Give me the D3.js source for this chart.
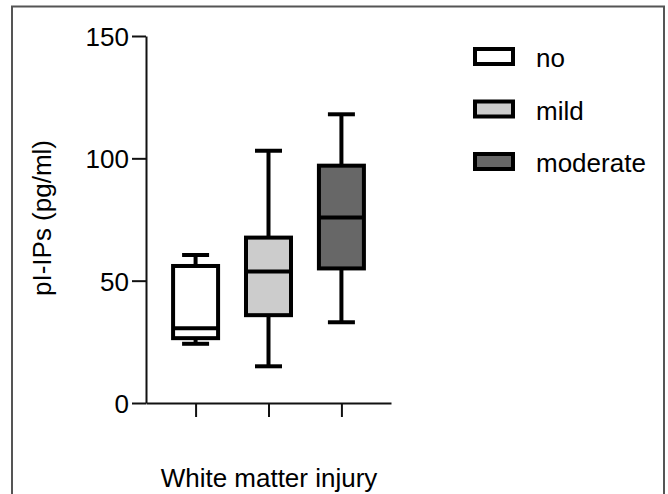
<!DOCTYPE html>
<html>
<head>
<meta charset="utf-8">
<script src="https://cdn.jsdelivr.net/npm/d3@7"></script>
<style>
  html, body { margin: 0; padding: 0; background: #fff; }
  text { font-family: "Liberation Sans", Arial, sans-serif; fill: #000; }
</style>
</head>
<body>
<svg id="chart"></svg>
<script>
// Datos
const groups = ["no", "mild", "moderate"];
const mins    = [24.2, 15.0, 33.0];
const q1s     = [26.5, 35.9, 55.0];
const medians = [30.6, 53.7, 75.8];
const q3s     = [56.0, 67.6, 97.0];
const maxs    = [60.5, 103.1, 118.0];
const fills   = ["#ffffff", "#cccccc", "#676767"];
const yTicks  = [0, 50, 100, 150];

const width = 668;
const height = 494;

const svg = d3.select("#chart")
    .attr("width", width)
    .attr("height", height);

// Marco
svg.append("path")
    .attr("d", "M12,500 L12,6.5 L664,6.5 L664,500")
    .attr("fill", "none")
    .attr("stroke", "#555")
    .attr("stroke-width", 2);

// Escalas
const x = d3.scalePoint()
    .domain(groups)
    .range([146, 391])
    .padding(0.68);

const y = d3.scaleLinear()
    .domain([0, 150])
    .range([403, 36]);

// Ejes
const yAxis = svg.append("g")
    .attr("transform", "translate(146,0)")
    .call(d3.axisLeft(y).tickValues(yTicks).tickSize(14).tickSizeOuter(0).tickPadding(3));

const xAxis = svg.append("g")
    .attr("transform", "translate(0,403)")
    .call(d3.axisBottom(x).tickSize(14).tickSizeOuter(0).tickFormat(""));

[xAxis, yAxis].forEach(g => {
    g.selectAll("path, line").attr("stroke", "#111").attr("stroke-width", 2);
    g.selectAll("text")
        .style("font-family", "'Liberation Sans', Arial, sans-serif")
        .style("font-size", "26px")
        .attr("fill", "#000");
});
yAxis.selectAll("text").attr("dy", "0.36em");

// Cajas
const data = groups.map((g, i) => ({
    g, min: mins[i], q1: q1s[i], med: medians[i], q3: q3s[i], max: maxs[i], fill: fills[i]
}));

const boxW = 45;
const capW = 27;
const sw = 4;

const box = svg.selectAll(".box")
    .data(data)
    .enter()
    .append("g")
    .attr("class", "box");

// bigotes
box.append("line")
    .attr("x1", d => x(d.g)).attr("x2", d => x(d.g))
    .attr("y1", d => y(d.max)).attr("y2", d => y(d.q3))
    .attr("stroke", "#000").attr("stroke-width", sw);
box.append("line")
    .attr("x1", d => x(d.g)).attr("x2", d => x(d.g))
    .attr("y1", d => y(d.q1)).attr("y2", d => y(d.min))
    .attr("stroke", "#000").attr("stroke-width", sw);
box.append("line")
    .attr("x1", d => x(d.g) - capW / 2).attr("x2", d => x(d.g) + capW / 2)
    .attr("y1", d => y(d.max)).attr("y2", d => y(d.max))
    .attr("stroke", "#000").attr("stroke-width", sw);
box.append("line")
    .attr("x1", d => x(d.g) - capW / 2).attr("x2", d => x(d.g) + capW / 2)
    .attr("y1", d => y(d.min)).attr("y2", d => y(d.min))
    .attr("stroke", "#000").attr("stroke-width", sw);

box.append("rect")
    .attr("x", d => x(d.g) - boxW / 2)
    .attr("width", boxW)
    .attr("y", d => y(d.q3))
    .attr("height", d => y(d.q1) - y(d.q3))
    .attr("fill", d => d.fill)
    .attr("stroke", "#000")
    .attr("stroke-width", sw);

box.append("line")
    .attr("x1", d => x(d.g) - boxW / 2).attr("x2", d => x(d.g) + boxW / 2)
    .attr("y1", d => y(d.med)).attr("y2", d => y(d.med))
    .attr("stroke", "#000").attr("stroke-width", sw);

// Leyenda
const legend = svg.selectAll(".legend")
    .data(data)
    .enter()
    .append("g")
    .attr("class", "legend")
    .attr("transform", (d, i) => `translate(475,${49 + i * 52.5})`);

legend.append("rect")
    .attr("width", 38)
    .attr("height", 15)
    .attr("fill", d => d.fill)
    .attr("stroke", "#000")
    .attr("stroke-width", sw);

legend.append("text")
    .attr("x", 61)
    .attr("y", 18)
    .style("font-size", "26px")
    .text(d => d.g);

// Títulos
svg.append("text")
    .attr("transform", "translate(51,218) rotate(-90)")
    .attr("text-anchor", "middle")
    .style("font-size", "26px")
    .text("pI-IPs (pg/ml)");

svg.append("text")
    .attr("x", 269)
    .attr("y", 487)
    .attr("text-anchor", "middle")
    .style("font-size", "26px")
    .text("White matter injury");
</script>
</body>
</html>
